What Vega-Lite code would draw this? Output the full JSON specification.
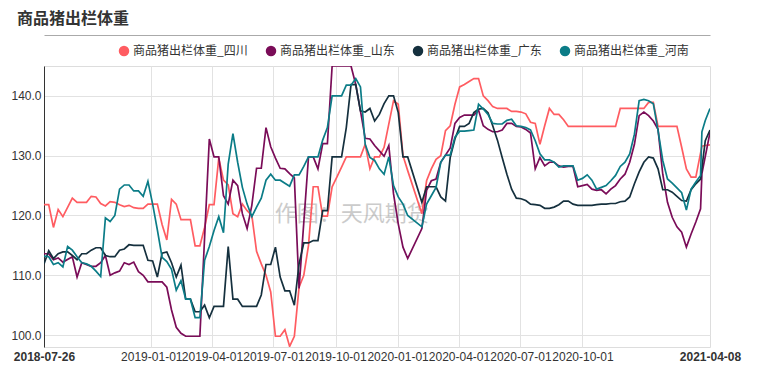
{
  "$schema": "https://vega.github.io/schema/vega-lite/v6.json",
  "width": 666,
  "height": 281,
  "autosize": {"type": "none"},
  "padding": {"left": 44, "top": 66, "right": 51, "bottom": 45},
  "background": "white",
  "title": {"text": "商品猪出栏体重", "anchor": "start", "frame": "group", "font": "Noto Sans CJK SC", "fontSize": 16, "fontWeight": "bold", "color": "#333333", "dx": -27, "offset": 8},
  "datasets": {
    "pig": [
      {"d":"2018-07-26","四川":121.8,"山东":113.6,"广东":111.9,"河南":113.2},
      {"d":"2018-08-02","四川":121.8,"山东":113.6,"广东":114.1,"河南":113.1},
      {"d":"2018-08-09","四川":118,"山东":112.6,"广东":112.8,"河南":111.8},
      {"d":"2018-08-16","四川":121,"山东":112.9,"广东":113.6,"河南":112.1},
      {"d":"2018-08-23","四川":119.8,"山东":112.2,"广东":113.9,"河南":111.4},
      {"d":"2018-08-30","四川":null,"山东":null,"广东":113.9,"河南":114.8},
      {"d":"2018-09-06","四川":122.9,"山东":113.1,"广东":113.3,"河南":114.2},
      {"d":"2018-09-13","四川":122.2,"山东":109.7,"广东":112.6,"河南":113.1},
      {"d":"2018-09-20","四川":122.2,"山东":112.1,"广东":113.6,"河南":112.1},
      {"d":"2018-09-27","四川":122.2,"山东":null,"广东":113.6,"河南":111.9},
      {"d":"2018-10-04","四川":123.2,"山东":111.5,"广东":114.2,"河南":111.5},
      {"d":"2018-10-11","四川":123.1,"山东":111.5,"广东":114.6,"河南":110.7},
      {"d":"2018-10-18","四川":122,"山东":112.1,"广东":114.6,"河南":109.8},
      {"d":"2018-10-25","四川":121.6,"山东":113.3,"广东":113.3,"河南":119.6},
      {"d":"2018-11-01","四川":122.3,"山东":110,"广东":113.1,"河南":119},
      {"d":"2018-11-08","四川":122.2,"山东":110.4,"广东":113.1,"河南":120},
      {"d":"2018-11-15","四川":121.8,"山东":110.7,"广东":114.2,"河南":124.4},
      {"d":"2018-11-22","四川":121.5,"山东":112.1,"广东":114.4,"河南":125.1},
      {"d":"2018-11-29","四川":121.7,"山东":111.8,"广东":115.1,"河南":125.1},
      {"d":"2018-12-06","四川":121.3,"山东":112.2,"广东":115,"河南":124.1},
      {"d":"2018-12-13","四川":121.2,"山东":110.6,"广东":115,"河南":124.1},
      {"d":"2018-12-20","四川":121.2,"山东":110,"广东":115,"河南":123.2},
      {"d":"2018-12-27","四川":121.9,"山东":108.9,"广东":112.5,"河南":125.7},
      {"d":"2019-01-03","四川":121.9,"山东":108.9,"广东":112.4,"河南":121.9},
      {"d":"2019-01-10","四川":121.9,"山东":108.9,"广东":109.7,"河南":117.6},
      {"d":"2019-01-17","四川":118.5,"山东":108.9,"广东":113.7,"河南":113},
      {"d":"2019-01-24","四川":115.9,"山东":108,"广东":113.9,"河南":112.3},
      {"d":"2019-01-31","四川":122.7,"山东":104.2,"广东":112.1,"河南":111},
      {"d":"2019-02-07","四川":121.9,"山东":101.3,"广东":109.7,"河南":107.5},
      {"d":"2019-02-14","四川":119.3,"山东":100.3,"广东":111.7,"河南":109.1},
      {"d":"2019-02-21","四川":119.3,"山东":99.8,"广东":106,"河南":106},
      {"d":"2019-02-28","四川":119.3,"山东":99.8,"广东":106,"河南":106},
      {"d":"2019-03-07","四川":114.9,"山东":99.8,"广东":103.9,"河南":102.9},
      {"d":"2019-03-14","四川":114.9,"山东":99.8,"广东":103.9,"河南":102.9},
      {"d":"2019-03-21","四川":118,"山东":null,"广东":105,"河南":112.5},
      {"d":"2019-03-28","四川":121.8,"山东":132.8,"广东":102.9,"河南":114.8},
      {"d":"2019-04-04","四川":121.8,"山东":129.8,"广东":104.8,"河南":117.5},
      {"d":"2019-04-11","四川":129.6,"山东":129.8,"广东":104.8,"河南":119.8},
      {"d":"2019-04-18","四川":125.9,"山东":123.3,"广东":104.8,"河南":117.1},
      {"d":"2019-04-25","四川":125.1,"山东":121.9,"广东":114.8,"河南":128.6},
      {"d":"2019-05-02","四川":120.3,"山东":125.9,"广东":106,"河南":133.7},
      {"d":"2019-05-09","四川":119.8,"山东":125,"广东":106,"河南":128.9},
      {"d":"2019-05-16","四川":121.9,"山东":120.3,"广东":104.8,"河南":124.7},
      {"d":"2019-05-23","四川":120.8,"山东":117.8,"广东":104.8,"河南":121.9},
      {"d":"2019-05-30","四川":120,"山东":121.7,"广东":104.8,"河南":119.8},
      {"d":"2019-06-06","四川":114,"山东":127.9,"广东":104.8,"河南":121.4},
      {"d":"2019-06-13","四川":111.9,"山东":127.9,"广东":106.7,"河南":122.9},
      {"d":"2019-06-20","四川":110,"山东":134.7,"广东":111.8,"河南":125.9},
      {"d":"2019-06-27","四川":107.2,"山东":131.5,"广东":111.8,"河南":126.9},
      {"d":"2019-07-04","四川":99.8,"山东":129.6,"广东":114.7,"河南":125.9},
      {"d":"2019-07-11","四川":99.8,"山东":127.9,"广东":109.7,"河南":125.9},
      {"d":"2019-07-18","四川":100.9,"山东":127.8,"广东":107.4,"河南":125.4},
      {"d":"2019-07-25","四川":98.1,"山东":127,"广东":107.4,"河南":124.9},
      {"d":"2019-08-01","四川":99.8,"山东":126.3,"广东":105,"河南":126.8},
      {"d":"2019-08-08","四川":108,"山东":107.8,"广东":111.9,"河南":126.8},
      {"d":"2019-08-15","四川":110,"山东":null,"广东":115.4,"河南":128.2},
      {"d":"2019-08-22","四川":115,"山东":129.8,"广东":115.4,"河南":129.8},
      {"d":"2019-08-29","四川":124.8,"山东":129.8,"广东":115.8,"河南":129.8},
      {"d":"2019-09-05","四川":124.8,"山东":127.8,"广东":115.8,"河南":129.8},
      {"d":"2019-09-12","四川":119.9,"山东":132,"广东":120.8,"河南":132.6},
      {"d":"2019-09-19","四川":119.9,"山东":132,"广东":120.8,"河南":134.7},
      {"d":"2019-09-26","四川":124.8,"山东":145,"广东":129.8,"河南":140},
      {"d":"2019-10-03","四川":126.4,"山东":145,"广东":129.8,"河南":140},
      {"d":"2019-10-10","四川":128.1,"山东":145,"广东":129.8,"河南":140},
      {"d":"2019-10-17","四川":129.8,"山东":145,"广东":134.7,"河南":141.8},
      {"d":"2019-10-24","四川":129.8,"山东":145,"广东":141.9,"河南":141.8},
      {"d":"2019-10-31","四川":129.8,"山东":141.9,"广东":141.9,"河南":142.9},
      {"d":"2019-11-07","四川":129.8,"山东":137.5,"广东":137.5,"河南":141.5},
      {"d":"2019-11-14","四川":131.9,"山东":132.9,"广东":137.3,"河南":131.9},
      {"d":"2019-11-21","四川":127.8,"山东":132.8,"广东":137.9,"河南":129.7},
      {"d":"2019-11-28","四川":129.8,"山东":131.7,"广东":135.8,"河南":129.2},
      {"d":"2019-12-05","四川":129.8,"山东":130.8,"广东":136.9,"河南":127.8},
      {"d":"2019-12-12","四川":131.4,"山东":129.9,"广东":138.7,"河南":126.9},
      {"d":"2019-12-19","四川":null,"山东":131.7,"广东":140,"河南":129.8},
      {"d":"2019-12-26","四川":139.2,"山东":123.6,"广东":140,"河南":125},
      {"d":"2020-01-02","四川":138.6,"山东":118.6,"广东":137.2,"河南":123.1},
      {"d":"2020-01-09","四川":130,"山东":114.7,"广东":129.8,"河南":121.9},
      {"d":"2020-01-16","四川":127.5,"山东":112.8,"广东":129.8,"河南":120},
      {"d":"2020-02-06","四川":120.3,"山东":117.8,"广东":122.2,"河南":118.1},
      {"d":"2020-02-13","四川":125.8,"山东":124.2,"广东":124.8,"河南":121.9},
      {"d":"2020-02-20","四川":127.8,"山东":125.8,"广东":124.8,"河南":123.3},
      {"d":"2020-02-27","四川":129.4,"山东":126.1,"广东":124.8,"河南":124.7},
      {"d":"2020-03-05","四川":130,"山东":128.9,"广东":123.1,"河南":128.9},
      {"d":"2020-03-12","四川":134.2,"山东":null,"广东":122.4,"河南":130.1},
      {"d":"2020-03-19","四川":135,"山东":131.3,"广东":129.7,"河南":130.1},
      {"d":"2020-03-26","四川":138.6,"山东":135.4,"广东":132.8,"河南":133.1},
      {"d":"2020-04-02","四川":141.5,"山东":136.4,"广东":134.9,"河南":134.1},
      {"d":"2020-04-09","四川":141.9,"山东":136.8,"广东":134.9,"河南":134.1},
      {"d":"2020-04-16","四川":142.4,"山东":136.8,"广东":135.4,"河南":134.2},
      {"d":"2020-04-23","四川":142.9,"山东":136.8,"广东":137.2,"河南":134.3},
      {"d":"2020-04-30","四川":142.9,"山东":137.6,"广东":137.8,"河南":138.6},
      {"d":"2020-05-07","四川":140,"山东":135,"广东":137.9,"河南":137.8},
      {"d":"2020-05-14","四川":139.2,"山东":134.4,"广东":137.2,"河南":136.9},
      {"d":"2020-05-21","四川":138.2,"山东":134,"广东":135,"河南":135.4},
      {"d":"2020-05-28","四川":137.9,"山东":134,"广东":132.6,"河南":135.3},
      {"d":"2020-06-04","四川":137.9,"山东":134.3,"广东":129.7,"河南":135.3},
      {"d":"2020-06-11","四川":137.9,"山东":135.4,"广东":126.9,"河南":135.9},
      {"d":"2020-06-18","四川":137.4,"山东":135.4,"广东":124.4,"河南":136.1},
      {"d":"2020-06-25","四川":137.4,"山东":134.9,"广东":122.9,"河南":135},
      {"d":"2020-07-02","四川":137.3,"山东":134.8,"广东":122.8,"河南":134.9},
      {"d":"2020-07-09","四川":137,"山东":134.4,"广东":122.5,"河南":134.7},
      {"d":"2020-07-16","四川":135.6,"山东":133.8,"广东":121.9,"河南":134.3},
      {"d":"2020-07-23","四川":135.4,"山东":127.8,"广东":121.8,"河南":132.5},
      {"d":"2020-07-30","四川":131.9,"山东":129.7,"广东":121.7,"河南":130.3},
      {"d":"2020-08-06","四川":135,"山东":128.3,"广东":121.2,"河南":129.3},
      {"d":"2020-08-13","四川":137.9,"山东":128.9,"广东":121.2,"河南":129.3},
      {"d":"2020-08-20","四川":136.9,"山东":128.9,"广东":121.4,"河南":128.9},
      {"d":"2020-08-27","四川":136.9,"山东":128.3,"广东":121.8,"河南":128.1},
      {"d":"2020-09-03","四川":136,"山东":128.1,"广东":122.4,"河南":128.3},
      {"d":"2020-09-10","四川":134.9,"山东":128.2,"广东":122.4,"河南":128.3},
      {"d":"2020-09-17","四川":134.9,"山东":128.2,"广东":121.9,"河南":128.3},
      {"d":"2020-09-24","四川":134.9,"山东":124.8,"广东":121.7,"河南":125.9},
      {"d":"2020-10-01","四川":134.9,"山东":125,"广东":121.7,"河南":126.2},
      {"d":"2020-10-08","四川":134.9,"山东":125.2,"广东":121.7,"河南":126.8},
      {"d":"2020-10-15","四川":134.9,"山东":124.4,"广东":121.7,"河南":125.9},
      {"d":"2020-10-22","四川":134.9,"山东":124.2,"广东":121.8,"河南":124.4},
      {"d":"2020-10-29","四川":134.9,"山东":124.3,"广东":121.9,"河南":124.7},
      {"d":"2020-11-05","四川":134.9,"山东":123.6,"广东":121.9,"河南":125},
      {"d":"2020-11-12","四川":134.9,"山东":124.4,"广东":122,"河南":125.8},
      {"d":"2020-11-19","四川":134.9,"山东":125,"广东":122,"河南":126.7},
      {"d":"2020-11-26","四川":137.9,"山东":126.1,"广东":122.3,"河南":128.2},
      {"d":"2020-12-03","四川":137.9,"山东":126.9,"广东":122.4,"河南":128.9},
      {"d":"2020-12-10","四川":137.9,"山东":128.9,"广东":123.1,"河南":130.3},
      {"d":"2020-12-17","四川":137.9,"山东":131.9,"广东":125.3,"河南":133.6},
      {"d":"2020-12-24","四川":137.9,"山东":136.7,"广东":127.3,"河南":139.2},
      {"d":"2020-12-31","四川":137.9,"山东":137.3,"广东":128.9,"河南":139.4},
      {"d":"2021-01-07","四川":138.9,"山东":136.7,"广东":129.8,"河南":139.2},
      {"d":"2021-01-14","四川":138.9,"山东":135.8,"广东":129.6,"河南":138.7},
      {"d":"2021-01-21","四川":134.9,"山东":134.4,"广东":127.8,"河南":134.2},
      {"d":"2021-01-28","四川":134.9,"山东":126.9,"广东":124.3,"河南":129.2},
      {"d":"2021-02-04","四川":134.9,"山东":122.2,"广东":124.3,"河南":126.1},
      {"d":"2021-02-11","四川":134.9,"山东":119.7,"广东":123.9,"河南":125.4},
      {"d":"2021-02-18","四川":134.9,"山东":118.1,"广东":123.2,"河南":124.6},
      {"d":"2021-02-25","四川":131.4,"山东":117.2,"广东":122.5,"河南":123.8},
      {"d":"2021-03-04","四川":127.8,"山东":114.7,"广东":122.4,"河南":120.9},
      {"d":"2021-03-11","四川":126.4,"山东":116.9,"广东":124.3,"河南":124.4},
      {"d":"2021-03-18","四川":126.4,"山东":118.9,"广东":125.3,"河南":125.6},
      {"d":"2021-03-25","四川":null,"山东":121.1,"广东":126.1,"河南":126.7},
      {"d":"2021-03-27","四川":131.6,"山东":127,"广东":null,"河南":134},
      {"d":"2021-04-01","四川":131.7,"山东":null,"广东":132.5,"河南":135.9},
      {"d":"2021-04-08","四川":131.8,"山东":133.9,"广东":134.3,"河南":137.9}
    ],
    "wm": [
      {"d":"2019-10-25","v":120.3,"t":"作图：天风期货"}
    ]
  },
  "layer": [
    {
      "data": {"name": "wm"},
      "mark": {"type": "text", "font": "Noto Sans CJK SC", "fontSize": 22, "color": "#999999", "opacity": 0.5, "align": "center", "baseline": "middle"},
      "encoding": {
        "x": {"field": "d", "type": "temporal", "axis": {"orient": "top", "offset": 31, "labels": false, "ticks": false, "grid": false, "domain": true, "domainColor": "#aaaaaa", "domainWidth": 1.2, "title": null}},
        "y": {"field": "v", "type": "quantitative", "axis": null},
        "text": {"field": "t"}
      }
    },
    {
      "data": {"name": "pig"},
      "transform": [
        {"fold": ["四川", "山东", "广东", "河南"], "as": ["s", "v"]},
        {"filter": "isValid(datum.v)"}
      ],
      "mark": {"type": "line", "strokeWidth": 1.7, "clip": true},
      "encoding": {
        "x": {
          "field": "d", "type": "temporal",
          "scale": {"type": "utc", "nice": false, "domain": [{"year": 2018, "month": 7, "date": 26, "utc": true}, {"year": 2021, "month": 4, "date": 8, "utc": true}]},
          "axis": {
            "values": [
              {"year": 2018, "month": 7, "date": 26, "utc": true},
              {"year": 2019, "month": 1, "date": 1, "utc": true},
              {"year": 2019, "month": 4, "date": 1, "utc": true},
              {"year": 2019, "month": 7, "date": 1, "utc": true},
              {"year": 2019, "month": 10, "date": 1, "utc": true},
              {"year": 2020, "month": 1, "date": 1, "utc": true},
              {"year": 2020, "month": 4, "date": 1, "utc": true},
              {"year": 2020, "month": 7, "date": 1, "utc": true},
              {"year": 2020, "month": 10, "date": 1, "utc": true},
              {"year": 2021, "month": 4, "date": 8, "utc": true}
            ],
            "format": "%Y-%m-%d",
            "labelFont": "Liberation Sans",
            "labelFontSize": 12,
            "labelColor": "#333333",
            "labelFontWeight": {"condition": {"test": "datum.index == 0 || datum.index == 1", "value": "bold"}, "value": "normal"},
            "labelOverlap": false,
            "labelFlush": false,
            "labelPadding": 4,
            "ticks": false,
            "domain": false,
            "grid": true,
            "gridColor": "#e2e2e2",
            "gridOpacity": {"condition": {"test": "datum.index == 0 || datum.index == 1", "value": 0}, "value": 1},
            "title": null
          }
        },
        "y": {
          "field": "v", "type": "quantitative",
          "scale": {"domain": [98, 145], "nice": false, "zero": false},
          "axis": {
            "values": [100, 110, 120, 130, 140],
            "format": ".1f",
            "labelFont": "Liberation Sans",
            "labelFontSize": 12,
            "labelColor": "#333333",
            "labelPadding": 3,
            "ticks": false,
            "domain": true,
            "domainColor": "#333333",
            "domainWidth": 1,
            "grid": true,
            "gridColor": "#e2e2e2",
            "title": null
          }
        },
        "color": {
          "field": "s", "type": "nominal",
          "scale": {"domain": ["四川", "山东", "广东", "河南"], "range": ["#FF5C61", "#7A0C58", "#15303E", "#0B7C87"]},
          "legend": {
            "orient": "none",
            "legendX": 74,
            "legendY": -21,
            "direction": "horizontal",
            "title": null,
            "padding": 0,
            "symbolType": "circle",
            "symbolSize": 110,
            "symbolStrokeWidth": 0,
            "labelFont": "Noto Sans CJK SC",
            "labelFontSize": 12,
            "labelColor": "#333333",
            "labelOffset": 3,
            "columnPadding": 17,
            "labelExpr": "'商品猪出栏体重_' + datum.label",
            "encode": {"symbols": {"update": {"fill": {"scale": "color", "field": "value"}, "opacity": {"value": 1}}}}
          }
        }
      }
    }
  ],
  "resolve": {"axis": {"x": "independent", "y": "independent"}}
}
